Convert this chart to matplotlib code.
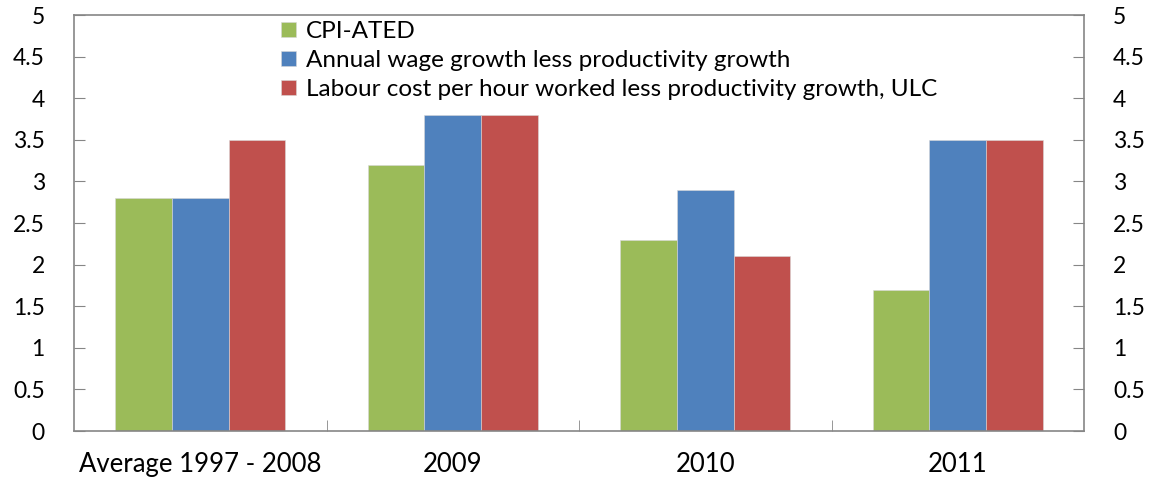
import numpy as np
import matplotlib
matplotlib.use("Agg")
import matplotlib.pyplot as plt

plt.rcParams['font.family'] = ['Lato', 'DejaVu Sans']

categories = ["Average 1997 - 2008", "2009", "2010", "2011"]
series_names = [
    "CPI-ATED",
    "Annual wage growth less productivity growth",
    "Labour cost per hour worked less productivity growth, ULC",
]
cpi_ated = [2.8, 3.2, 2.3, 1.7]
wage_less_prod = [2.8, 3.8, 2.9, 3.5]
ulc = [3.5, 3.8, 2.1, 3.5]
yticks = [0, 0.5, 1, 1.5, 2, 2.5, 3, 3.5, 4, 4.5, 5]
ytick_labels = ["0", "0.5", "1", "1.5", "2", "2.5", "3", "3.5", "4", "4.5", "5"]

colors = ["#9BBB59", "#4F81BD", "#C0504D"]
spine_col = "#868686"

fig = plt.figure(figsize=(11.5, 4.82), dpi=100)
ax = fig.add_axes([74 / 1150, 1 - 431 / 482, (1084 - 74) / 1150, (431 - 15) / 482])

x = np.arange(len(categories))
width = 0.224
for i, (vals, name) in enumerate(zip([cpi_ated, wage_less_prod, ulc], series_names)):
    ax.bar(x + (i - 1) * width, vals, width, color=colors[i], label=name,
           edgecolor="#d8d8d8", linewidth=0.4)

ax.set_xlim(-0.5, len(categories) - 0.5)
ax.set_ylim(0, 5)
ax.set_yticks(yticks)
ax.set_yticklabels(ytick_labels)
ax.tick_params(axis='y', direction='in', length=8, color=spine_col,
               right=True, labelright=True, labelsize=16.5, pad=21)

ax.set_xticks(x)
ax.set_xticklabels(categories)
ax.tick_params(axis='x', which='major', length=0, labelsize=18.5, pad=15)
ax.set_xticks(x[:-1] + 0.5, minor=True)
ax.tick_params(axis='x', which='minor', direction='in', length=8, color=spine_col)

for s in ax.spines.values():
    s.set_color(spine_col)
    s.set_linewidth(1.2)

leg = ax.legend(loc='upper left', bbox_to_anchor=(281 / 1150, 1 - 21 / 482),
                bbox_transform=fig.transFigure, frameon=False, fontsize=17.5,
                handlelength=0.62, handleheight=0.62, handletextpad=0.4,
                labelspacing=0.33, borderaxespad=0, borderpad=0)

fig.savefig("out.png", dpi=100)
